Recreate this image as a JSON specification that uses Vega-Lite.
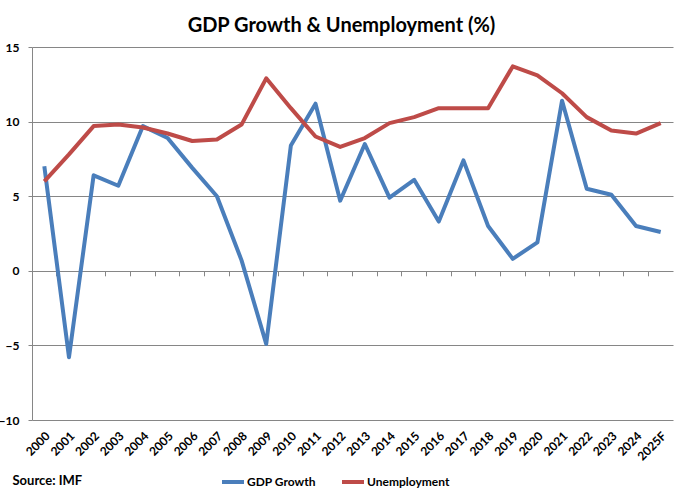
{
  "$schema": "https://vega.github.io/schema/vega-lite/v6.json",
  "width": 641,
  "height": 373,
  "autosize": "none",
  "padding": {"left": 32, "top": 47, "right": 10, "bottom": 76},
  "background": "white",
  "config": {"view": {"stroke": null}},
  "title": {
    "text": "GDP Growth & Unemployment (%)",
    "font": "Lato",
    "fontSize": 20,
    "fontWeight": "bold",
    "color": "black",
    "anchor": "middle",
    "dx": -11,
    "dy": 22,
    "baseline": "alphabetic",
    "offset": 11
  },
  "data": {
    "values": [
      {"year": "2000", "series": "GDP Growth", "value": 7.0},
      {"year": "2001", "series": "GDP Growth", "value": -5.8},
      {"year": "2002", "series": "GDP Growth", "value": 6.4},
      {"year": "2003", "series": "GDP Growth", "value": 5.7},
      {"year": "2004", "series": "GDP Growth", "value": 9.7},
      {"year": "2005", "series": "GDP Growth", "value": 8.9},
      {"year": "2006", "series": "GDP Growth", "value": 6.9},
      {"year": "2007", "series": "GDP Growth", "value": 5.0},
      {"year": "2008", "series": "GDP Growth", "value": 0.7},
      {"year": "2009", "series": "GDP Growth", "value": -4.9},
      {"year": "2010", "series": "GDP Growth", "value": 8.4},
      {"year": "2011", "series": "GDP Growth", "value": 11.2},
      {"year": "2012", "series": "GDP Growth", "value": 4.7},
      {"year": "2013", "series": "GDP Growth", "value": 8.5},
      {"year": "2014", "series": "GDP Growth", "value": 4.9},
      {"year": "2015", "series": "GDP Growth", "value": 6.1},
      {"year": "2016", "series": "GDP Growth", "value": 3.3},
      {"year": "2017", "series": "GDP Growth", "value": 7.4},
      {"year": "2018", "series": "GDP Growth", "value": 3.0},
      {"year": "2019", "series": "GDP Growth", "value": 0.8},
      {"year": "2020", "series": "GDP Growth", "value": 1.9},
      {"year": "2021", "series": "GDP Growth", "value": 11.4},
      {"year": "2022", "series": "GDP Growth", "value": 5.5},
      {"year": "2023", "series": "GDP Growth", "value": 5.1},
      {"year": "2024", "series": "GDP Growth", "value": 3.0},
      {"year": "2025F", "series": "GDP Growth", "value": 2.6},
      {"year": "2000", "series": "Unemployment", "value": 6.0},
      {"year": "2001", "series": "Unemployment", "value": 7.8},
      {"year": "2002", "series": "Unemployment", "value": 9.7},
      {"year": "2003", "series": "Unemployment", "value": 9.8},
      {"year": "2004", "series": "Unemployment", "value": 9.6},
      {"year": "2005", "series": "Unemployment", "value": 9.2},
      {"year": "2006", "series": "Unemployment", "value": 8.7},
      {"year": "2007", "series": "Unemployment", "value": 8.8},
      {"year": "2008", "series": "Unemployment", "value": 9.8},
      {"year": "2009", "series": "Unemployment", "value": 12.9},
      {"year": "2010", "series": "Unemployment", "value": 10.9},
      {"year": "2011", "series": "Unemployment", "value": 9.0},
      {"year": "2012", "series": "Unemployment", "value": 8.3},
      {"year": "2013", "series": "Unemployment", "value": 8.9},
      {"year": "2014", "series": "Unemployment", "value": 9.9},
      {"year": "2015", "series": "Unemployment", "value": 10.3},
      {"year": "2016", "series": "Unemployment", "value": 10.9},
      {"year": "2017", "series": "Unemployment", "value": 10.9},
      {"year": "2018", "series": "Unemployment", "value": 10.9},
      {"year": "2019", "series": "Unemployment", "value": 13.7},
      {"year": "2020", "series": "Unemployment", "value": 13.1},
      {"year": "2021", "series": "Unemployment", "value": 11.9},
      {"year": "2022", "series": "Unemployment", "value": 10.3},
      {"year": "2023", "series": "Unemployment", "value": 9.4},
      {"year": "2024", "series": "Unemployment", "value": 9.2},
      {"year": "2025F", "series": "Unemployment", "value": 9.9}
    ]
  },
  "layer": [
    {
      "transform": [{"filter": "datum.series === 'GDP Growth'"}],
      "mark": {"type": "line", "strokeWidth": 4, "strokeJoin": "round"},
      "encoding": {
        "x": {
          "field": "year",
          "type": "ordinal",
          "sort": null,
          "bandPosition": 0.5,
          "scale": {"type": "band", "paddingInner": 0, "paddingOuter": 0},
          "axis": {
            "orient": "bottom",
            "domain": false,
            "ticks": false,
            "grid": false,
            "labelAngle": -45,
            "labelFont": "Lato",
            "labelFontWeight": "bold",
            "labelFontSize": 12,
            "labelColor": "black",
            "labelPadding": 10,
            "labelOverlap": false,
            "title": "Source: IMF",
            "titleFont": "Lato",
            "titleFontWeight": "bold",
            "titleFontSize": 13,
            "titleColor": "black",
            "titleAnchor": "start",
            "titleAlign": "left",
            "titleBaseline": "alphabetic",
            "titleX": -20,
            "titleY": 64
          }
        },
        "y": {
          "field": "value",
          "type": "quantitative",
          "scale": {"domain": [-10, 15], "nice": false, "zero": false},
          "axis": {
            "values": [-10, -5, 0, 5, 10, 15],
            "domain": true,
            "domainColor": "#868686",
            "grid": true,
            "gridColor": "#868686",
            "ticks": true,
            "tickColor": "#868686",
            "tickSize": 4,
            "labelFont": "Lato",
            "labelFontWeight": "bold",
            "labelFontSize": 12,
            "labelColor": "black",
            "labelPadding": 9,
            "title": null
          }
        },
        "color": {
          "field": "series",
          "type": "nominal",
          "scale": {"domain": ["GDP Growth", "Unemployment"], "range": ["#4A7EBB", "#BE4B48"]},
          "legend": {
            "orient": "none",
            "legendX": 188,
            "legendY": 422,
            "direction": "horizontal",
            "title": null,
            "padding": 0,
            "symbolType": "stroke",
            "symbolStrokeWidth": 4,
            "symbolSize": 484,
            "labelFont": "Lato",
            "labelFontWeight": "bold",
            "labelFontSize": 12,
            "labelColor": "black",
            "labelOffset": 1,
            "columnPadding": 18
          }
        }
      }
    },
    {
      "transform": [{"filter": "datum.series === 'Unemployment'"}],
      "mark": {"type": "line", "strokeWidth": 4, "strokeJoin": "round"},
      "encoding": {
        "x": {
          "field": "year",
          "type": "ordinal",
          "sort": null,
          "bandPosition": 0.5,
          "scale": {"type": "band", "paddingInner": 0, "paddingOuter": 0},
          "axis": {
            "orient": "bottom",
            "labels": false,
            "domain": false,
            "grid": false,
            "ticks": true,
            "tickColor": "#868686",
            "tickSize": 5,
            "bandPosition": 0,
            "offset": -149.2,
            "title": null
          }
        },
        "y": {"field": "value", "type": "quantitative"},
        "color": {"field": "series", "type": "nominal"}
      }
    }
  ],
  "resolve": {"axis": {"x": "independent"}}
}
